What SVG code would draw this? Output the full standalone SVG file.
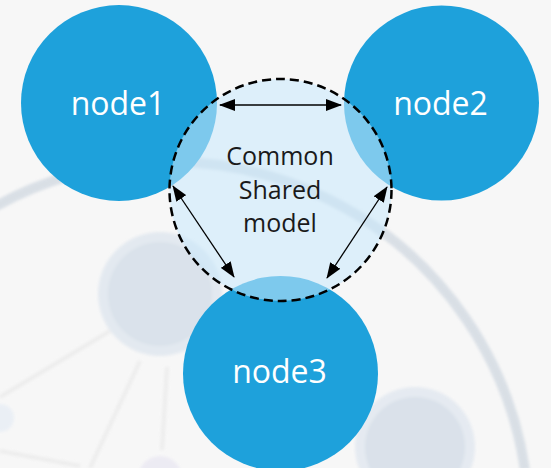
<svg xmlns="http://www.w3.org/2000/svg" width="551" height="468" viewBox="0 0 551 468">
  <defs>
    <filter id="soft" x="-20%" y="-20%" width="140%" height="140%">
      <feGaussianBlur stdDeviation="1.8"/>
    </filter>
    <marker id="head" viewBox="0 0 16 12" refX="15" refY="6" markerWidth="16" markerHeight="12" markerUnits="userSpaceOnUse" orient="auto-start-reverse">
      <path d="M0,0 L16,6 L0,12 Z" fill="#000"/>
    </marker>
    <style>
      .node circle { fill: #1ea1db; }
      .node text { fill: #ffffff; font-family: "Open Sans", "Noto Sans", sans-serif; font-size: 32px; text-anchor: middle; }
      .link { stroke: #000; stroke-width: 1.3; fill: none; marker-start: url(#head); marker-end: url(#head); }
      .hub-label { fill: #1a1a1a; font-family: "Open Sans", "Noto Sans", sans-serif; font-size: 25px; text-anchor: middle; }
      .bg-line { stroke: #ebebeb; stroke-width: 4; fill: none; }
    </style>
  </defs>

  <!-- backdrop with faint network artwork -->
  <rect width="551" height="468" fill="#f7f7f7"/>
  <g id="backdrop" filter="url(#soft)" opacity="0.85">
    <line class="bg-line" x1="110" y1="331" x2="0" y2="397"/>
    <line class="bg-line" x1="140" y1="361" x2="90" y2="468"/>
    <line class="bg-line" x1="167" y1="367" x2="162" y2="450"/>
    <line class="bg-line" x1="0" y1="451" x2="80" y2="466"/>
    <path d="M -4,206 A 360 360 0 0 1 525,470" stroke="#d4dbe3" stroke-width="10" fill="none"/>
    <circle cx="160" cy="294" r="62" fill="#e0e7ef"/>
    <circle cx="160" cy="294" r="52" fill="#d5dfe9"/>
    <circle cx="415" cy="447" r="60" fill="#e2e8f0"/>
    <circle cx="415" cy="447" r="50" fill="#d5dee8"/>
    <circle cx="0" cy="418" r="14" fill="#e8eef5"/>
    <circle cx="160" cy="478" r="22" fill="#ebe9f3"/>
  </g>

  <!-- peer nodes -->
  <g id="node1" class="node">
    <circle cx="119" cy="103" r="98"/>
    <text x="118" y="115">node1</text>
  </g>
  <g id="node2" class="node">
    <circle cx="441.5" cy="103" r="97.5"/>
    <text x="440.5" y="115">node2</text>
  </g>
  <g id="node3" class="node">
    <circle cx="280.5" cy="373.5" r="97.5"/>
    <text x="279.5" y="383">node3</text>
  </g>

  <!-- shared model in the middle, translucent over the nodes -->
  <g id="common">
    <circle cx="280.5" cy="190" r="111" fill="#c7e7fc" fill-opacity="0.56"/>
    <circle cx="280.5" cy="190" r="111" fill="none" stroke="#000" stroke-width="2.5" stroke-dasharray="9 5"/>
    <text class="hub-label" x="280" y="165">Common</text>
    <text class="hub-label" x="280" y="199">Shared</text>
    <text class="hub-label" x="280" y="232">model</text>
  </g>

  <!-- two-way connectors -->
  <g id="connectors">
    <line class="link" x1="220" y1="105" x2="341" y2="105"/>
    <line class="link" x1="173" y1="186" x2="234" y2="277"/>
    <line class="link" x1="387" y1="187" x2="327" y2="278"/>
  </g>
</svg>
